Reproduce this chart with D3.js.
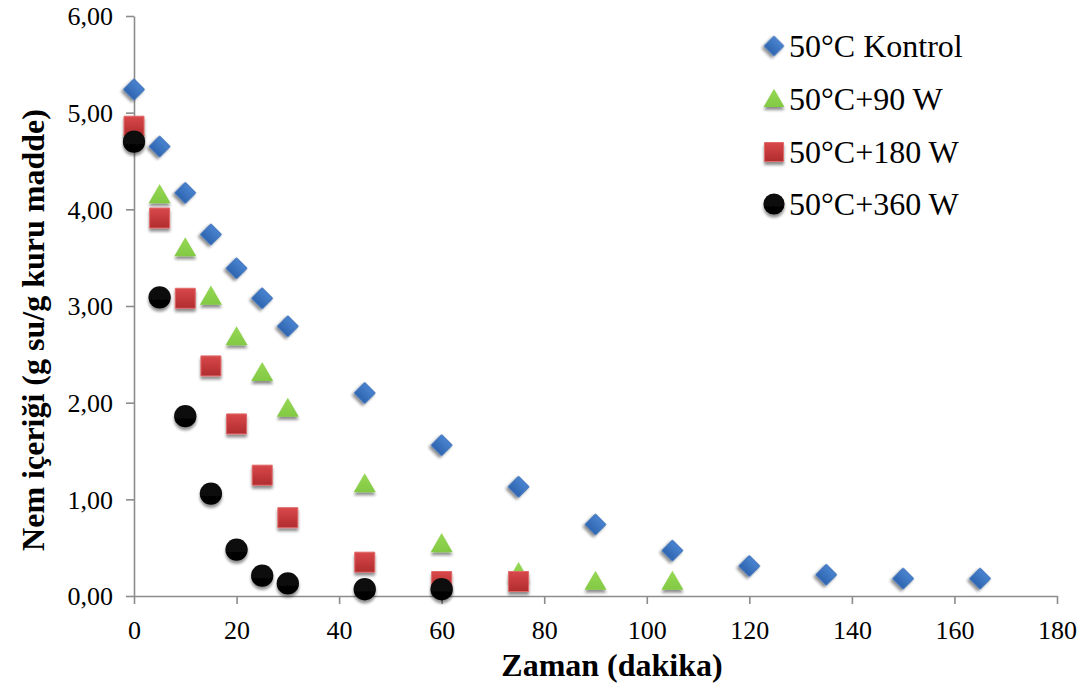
<!DOCTYPE html>
<html>
<head>
<meta charset="utf-8">
<script src="https://cdn.jsdelivr.net/npm/d3@7"></script>
<style>
  html, body { margin: 0; padding: 0; background: #fff; }
</style>
</head>
<body>
<svg id="chart" width="1088" height="689"></svg>
<script>
// Drying data: moisture content (g water / g dry matter) over time (minutes)
const timeKontrol = [0, 5, 10, 15, 20, 25, 30, 45, 60, 75, 90, 105, 120, 135, 150, 165];
const valKontrol  = [5.24, 4.65, 4.17, 3.74, 3.39, 3.08, 2.79, 2.10, 1.56, 1.13, 0.74, 0.47, 0.31, 0.22, 0.18, 0.18];

const time90 = [0, 5, 10, 15, 20, 25, 30, 45, 60, 75, 90, 105];
const val90  = [4.85, 4.15, 3.60, 3.10, 2.68, 2.31, 1.94, 1.16, 0.54, 0.24, 0.15, 0.15];

const time180 = [0, 5, 10, 15, 20, 25, 30, 45, 60, 75];
const val180  = [4.86, 3.91, 3.08, 2.38, 1.78, 1.25, 0.81, 0.35, 0.15, 0.15];

const time360 = [0, 5, 10, 15, 20, 25, 30, 45, 60];
const val360  = [4.70, 3.09, 1.86, 1.06, 0.48, 0.21, 0.13, 0.07, 0.07];

const seriesNames = ["50°C Kontrol", "50°C+90 W", "50°C+180 W", "50°C+360 W"];
const xTicks = [0, 20, 40, 60, 80, 100, 120, 140, 160, 180];
const yTicks = [0, 1, 2, 3, 4, 5, 6];
const xTitle = "Zaman (dakika)";
const yTitle = "Nem içeriği (g su/g kuru madde)";

const FONT = "'Liberation Serif', serif";
const svg = d3.select("#chart");
const margin = { left: 134, right: 31, top: 16, bottom: 93 };
const W = 1088, H = 689;

const x = d3.scaleLinear().domain([0, 180]).range([margin.left, W - margin.right]);
const y = d3.scaleLinear().domain([0, 6]).range([H - margin.bottom, margin.top]);

const defs = svg.append("defs");
const shadow = defs.append("filter").attr("id", "shadow")
  .attr("x", "-50%").attr("y", "-50%").attr("width", "200%").attr("height", "220%");
shadow.append("feGaussianBlur").attr("in", "SourceAlpha").attr("stdDeviation", 1.6).attr("result", "b");
shadow.append("feOffset").attr("in", "b").attr("dx", 0).attr("dy", 2.5).attr("result", "o");
shadow.append("feComponentTransfer").attr("in", "o").attr("result", "s")
  .append("feFuncA").attr("type", "linear").attr("slope", 0.45);
const merge = shadow.append("feMerge");
merge.append("feMergeNode").attr("in", "s");
merge.append("feMergeNode").attr("in", "SourceGraphic");

function grad(id, top, bottom) {
  const g = defs.append("linearGradient").attr("id", id)
    .attr("x1", 0).attr("y1", 0).attr("x2", 0).attr("y2", 1);
  g.append("stop").attr("offset", "0%").attr("stop-color", top);
  g.append("stop").attr("offset", "100%").attr("stop-color", bottom);
}
grad("gBlue", "#4a84d0", "#2f65b0");
grad("gGreen", "#96d855", "#82c943");
grad("gRed", "#d9484a", "#b02c2e");
grad("gBlack", "#111", "#000");

// diamond = square rotated 45°
const styles = [
  { type: d3.symbolSquare, size: 215, fill: "url(#gBlue)", stroke: "#3a6fb8", rotate: 45, dy: 0 },
  { type: d3.symbolTriangle, size: 210, fill: "url(#gGreen)", stroke: "none", rotate: 0, dy: 2 },
  { type: d3.symbolSquare, size: 400, fill: "url(#gRed)", stroke: "#e06a6a", rotate: 0, dy: 0 },
  { type: d3.symbolCircle, size: 390, fill: "url(#gBlack)", stroke: "none", rotate: 0, dy: 0 }
];

// axes
const axisColor = "#8c8c8c";
const gx = svg.append("g").attr("transform", `translate(0,${y(0)})`)
  .call(d3.axisBottom(x).tickValues(xTicks).tickSize(8).tickSizeOuter(0).tickFormat(d3.format("d")));
const gy = svg.append("g").attr("transform", `translate(${x(0)},0)`)
  .call(d3.axisLeft(y).tickValues(yTicks).tickSize(8).tickSizeOuter(0)
    .tickFormat(d => d3.format(".2f")(d).replace(".", ",")));
[gx, gy].forEach(g => {
  g.select(".domain").attr("stroke", axisColor).attr("stroke-width", 1.6);
  g.selectAll(".tick line").attr("stroke", axisColor).attr("stroke-width", 1.6);
  g.selectAll(".tick text").attr("fill", "#000")
    .style("font-family", FONT).style("font-size", "26px");
});
gx.selectAll(".tick text").attr("y", 43).attr("dy", 0);
gy.selectAll(".tick text").attr("x", -21).attr("dy", "0.34em");

// axis titles
svg.append("text").attr("x", 612).attr("y", 676).attr("text-anchor", "middle")
  .style("font-family", FONT).style("font-size", "32px").style("font-weight", "bold").text(xTitle);
svg.append("text").attr("transform", `translate(44,330) rotate(-90)`)
  .attr("text-anchor", "middle").style("font-family", FONT).style("font-size", "32px")
  .style("font-weight", "bold").text(yTitle);

// markers
const allSeries = [
  { t: timeKontrol, v: valKontrol },
  { t: time90, v: val90 },
  { t: time180, v: val180 },
  { t: time360, v: val360 }
];

function drawMarker(g, s, cx, cy, k = 1) {
  g.append("path")
    .attr("d", d3.symbol().type(s.type).size(s.size * k)())
    .attr("transform", `translate(${cx},${cy + s.dy * Math.sqrt(k)}) rotate(${s.rotate})`)
    .attr("fill", s.fill)
    .attr("stroke", s.stroke)
    .attr("stroke-width", 1)
    .attr("filter", "url(#shadow)");
}

const plot = svg.append("g");
allSeries.forEach((ser, i) => {
  const g = plot.append("g");
  ser.t.forEach((t, j) => drawMarker(g, styles[i], x(t), y(ser.v[j])));
});

// legend
const legend = svg.append("g");
const legendY = [46, 99, 152, 204];
seriesNames.forEach((name, i) => {
  drawMarker(legend, styles[i], 774, legendY[i], 0.9);
  legend.append("text").attr("x", 789).attr("y", legendY[i] + 11)
    .style("font-family", FONT).style("font-size", "32px").text(name);
});
</script>
</body>
</html>
